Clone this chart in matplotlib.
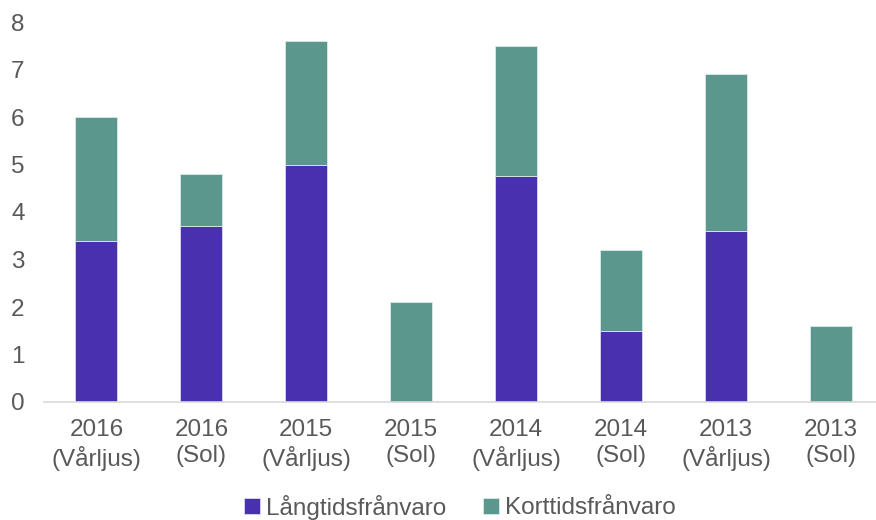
import numpy as np
import matplotlib.pyplot as plt

plt.rcParams['font.family'] = ['Liberation Sans', 'DejaVu Sans']

kategorier = ["2016\n(Vårljus)", "2016\n(Sol)", "2015\n(Vårljus)", "2015\n(Sol)",
              "2014\n(Vårljus)", "2014\n(Sol)", "2013\n(Vårljus)", "2013\n(Sol)"]
langtid = [3.4, 3.7, 5.0, 0.0, 4.75, 1.5, 3.6, 0.0]
korttid = [2.6, 1.1, 2.6, 2.1, 2.75, 1.7, 3.3, 1.6]

lila = "#4930AE"
gron = "#5C978D"
text = "#595959"

fig = plt.figure(figsize=(8.76, 5.2), dpi=100)
ax = fig.add_axes([44 / 876, 118 / 520, 832 / 876, 380 / 520])

x = np.arange(len(kategorier))
ax.bar(x, langtid, width=0.4, color=lila, edgecolor="#d9d9f0", linewidth=0.6,
       label="Långtidsfrånvaro")
ax.bar(x, korttid, width=0.4, bottom=langtid, color=gron, edgecolor="#d9ece8",
       linewidth=0.6, label="Korttidsfrånvaro")

ax.set_xlim(-0.5, 7.43)
ax.set_ylim(0, 8)
ax.set_yticks(range(0, 9))
ax.set_xticks(x)
ax.set_xticklabels(kategorier, fontsize=17.5, color=text, linespacing=1.25)
ax.tick_params(axis="y", labelsize=17.5, labelcolor=text, length=0, pad=14)
ax.tick_params(axis="x", length=0, pad=12)
for s in ["top", "right", "left"]:
    ax.spines[s].set_visible(False)
ax.spines["bottom"].set_color("#d9d9d9")
ax.spines["bottom"].set_linewidth(1.2)

leg = fig.legend(loc="center", bbox_to_anchor=(0.525, 0.025), ncol=2, frameon=False,
                 fontsize=17.5, handlelength=0.65, handleheight=0.65, handletextpad=0.25,
                 columnspacing=1.5)
for t in leg.get_texts():
    t.set_color(text)

fig.savefig("out.png", dpi=100)
